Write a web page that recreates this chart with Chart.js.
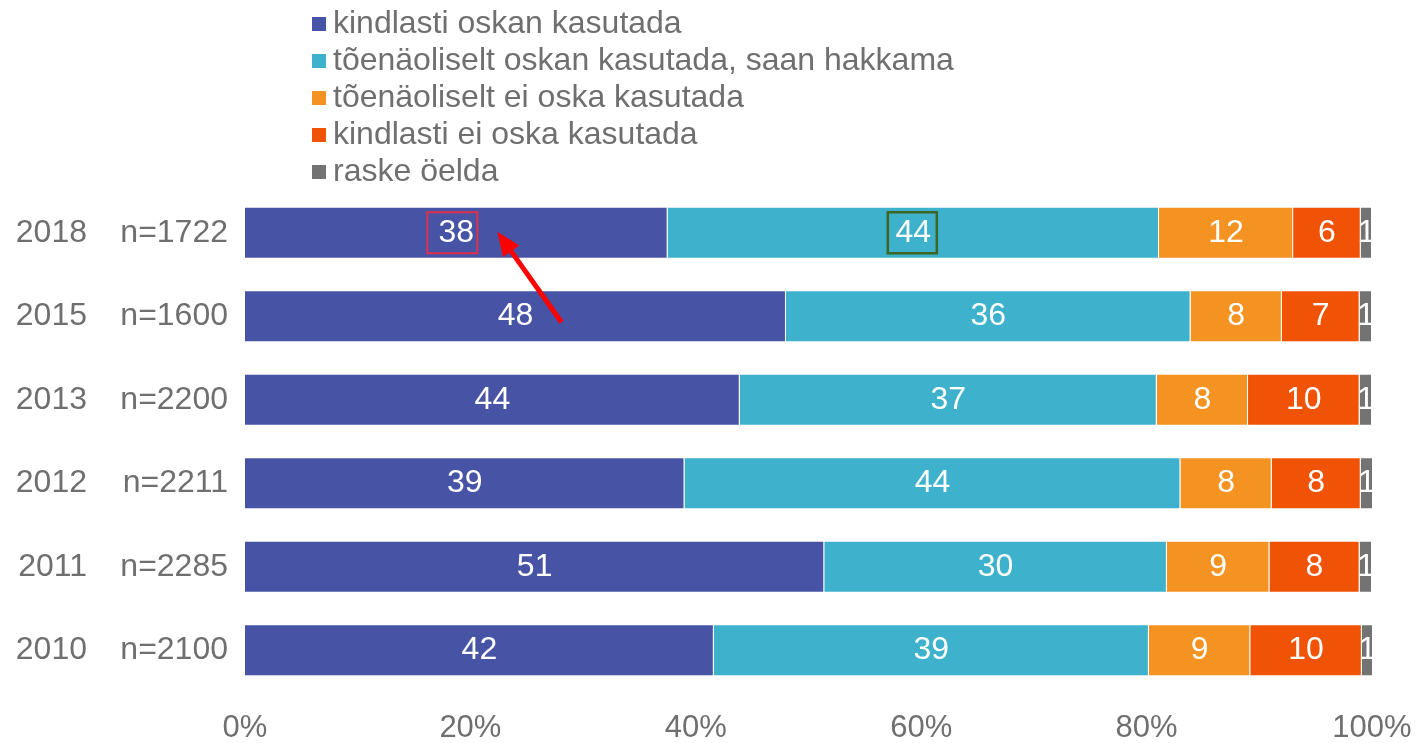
<!DOCTYPE html>
<html>
<head>
<meta charset="utf-8">
<script src="https://cdn.jsdelivr.net/npm/chart.js@4/dist/chart.umd.min.js"></script>
<style>
html,body{margin:0;padding:0;background:#fff}
</style>
</head>
<body>
<canvas id="chart" width="1420" height="743"></canvas>
<script>

// data (shares in %, labels shown rounded)
let years=["2018","2015","2013","2012","2011","2010"]
let sizes=["n=1722","n=1600","n=2200","n=2211","n=2285","n=2100"]
let seriesNames=["kindlasti oskan kasutada","tõenäoliselt oskan kasutada, saan hakkama","tõenäoliselt ei oska kasutada","kindlasti ei oska kasutada","raske öelda"]
let surelyCan=[37.5,48.0,43.9,39.0,51.4,41.6]
let probablyCan=[43.6,35.9,37.0,44.0,30.4,38.6]
let probablyCannot=[11.9,8.1,8.1,8.1,9.1,9.0]
let surelyCannot=[6.0,6.9,9.9,7.9,8.0,9.9]
let hardToSay=[1.0,1.1,1.1,1.1,1.1,1.0]
let xTicks=[0,20,40,60,80,100]
let colors=["#4754a6","#3eb1cd","#f59322","#f05206","#737373"]

let values=[surelyCan,probablyCan,probablyCannot,surelyCannot,hardToSay]
let textColor="#6f6f6f"
let font="Liberation Sans, Arial, sans-serif"

Chart.defaults.font.family=font
Chart.defaults.color=textColor

// legend stacked in one column above the bars
let legendPlugin={
id:"columnLegend",
afterDraw(chart){
let c=chart.ctx
c.save()
c.font="32px "+font
c.textBaseline="middle"
c.textAlign="left"
chart.data.datasets.forEach((ds,i)=>{
let y=24+i*37
c.fillStyle=ds.backgroundColor
c.fillRect(312,y-7,14,14)
c.fillStyle=textColor
c.fillText(ds.label,333,y)
})
c.restore()
}
}

// value labels in the middle of each segment
let labelPlugin={
id:"segLabels",
afterDatasetsDraw(chart){
let c=chart.ctx
c.save()
c.font="32px "+font
c.textAlign="center"
c.textBaseline="middle"
c.fillStyle="#ffffff"
chart.data.datasets.forEach((ds,i)=>{
chart.getDatasetMeta(i).data.forEach((el,j)=>{
c.fillText(Math.round(ds.data[j]),(el.x+el.base)/2,el.y)
})
})
c.restore()
}
}

// the boxes and arrow drawn over the picture
let notePlugin={
id:"notes",
afterDraw(chart){
let c=chart.ctx
let a=chart.getDatasetMeta(0).data[0]
let b=chart.getDatasetMeta(1).data[0]
let d=chart.getDatasetMeta(0).data[1]
let ax=(a.x+a.base)/2-4
let bx=(b.x+b.base)/2-1
c.save()
c.lineWidth=2
c.strokeStyle="#e0304c"
c.strokeRect(ax-25,a.y-20.5,50,41)
c.lineWidth=2.5
c.strokeStyle="#3f6526"
c.strokeRect(bx-24.5,b.y-20.5,49,41)

let tipX=ax+45,tipY=a.y-1
let tailX=(d.x+d.base)/2+46,tailY=d.y+6
let ang=Math.atan2(tipY-tailY,tipX-tailX)
let head=24
c.strokeStyle="#ff0000"
c.fillStyle="#ff0000"
c.lineWidth=5
c.beginPath()
c.moveTo(tailX,tailY)
c.lineTo(tipX-Math.cos(ang)*head*0.8,tipY-Math.sin(ang)*head*0.8)
c.stroke()
c.beginPath()
c.moveTo(tipX,tipY)
c.lineTo(tipX-Math.cos(ang)*head+Math.sin(ang)*10,tipY-Math.sin(ang)*head-Math.cos(ang)*10)
c.lineTo(tipX-Math.cos(ang)*head-Math.sin(ang)*10,tipY-Math.sin(ang)*head+Math.cos(ang)*10)
c.closePath()
c.fill()
c.restore()
}
}

let ctx=document.getElementById("chart")

let chart=new Chart(ctx,{
type:"bar",
data:{
labels:sizes,
datasets:seriesNames.map((name,i)=>({
label:name,
data:values[i],
backgroundColor:colors[i],
borderColor:"rgba(255,255,255,0.35)",
borderWidth:1,
barPercentage:0.623,
categoryPercentage:1
}))
},
options:{
indexAxis:"y",
responsive:false,
animation:false,
layout:{padding:{top:191,right:48,left:0,bottom:0}},
plugins:{legend:{display:false},tooltip:{enabled:false}},
scales:{
x:{
stacked:true,
min:0,
max:100,
grid:{display:false,drawTicks:false},
border:{display:false},
afterBuildTicks:s=>{s.ticks=xTicks.map(v=>({value:v}))},
ticks:{callback:v=>v+"%",font:{size:31},padding:18,maxRotation:0},
afterFit:s=>{s.height=51;s.paddingLeft=0;s.paddingRight=0}
},
y:{
stacked:true,
grid:{display:false,drawTicks:false},
border:{display:false},
ticks:{font:{size:32},padding:17},
afterFit:s=>{s.width=145}
},
y2:{
type:"category",
labels:years,
position:"left",
offset:true,
weight:1,
grid:{display:false,drawTicks:false},
border:{display:false},
ticks:{font:{size:32},padding:13},
afterFit:s=>{s.width=100}
}
}
},
plugins:[legendPlugin,labelPlugin,notePlugin]
})

</script>
</body>
</html>
